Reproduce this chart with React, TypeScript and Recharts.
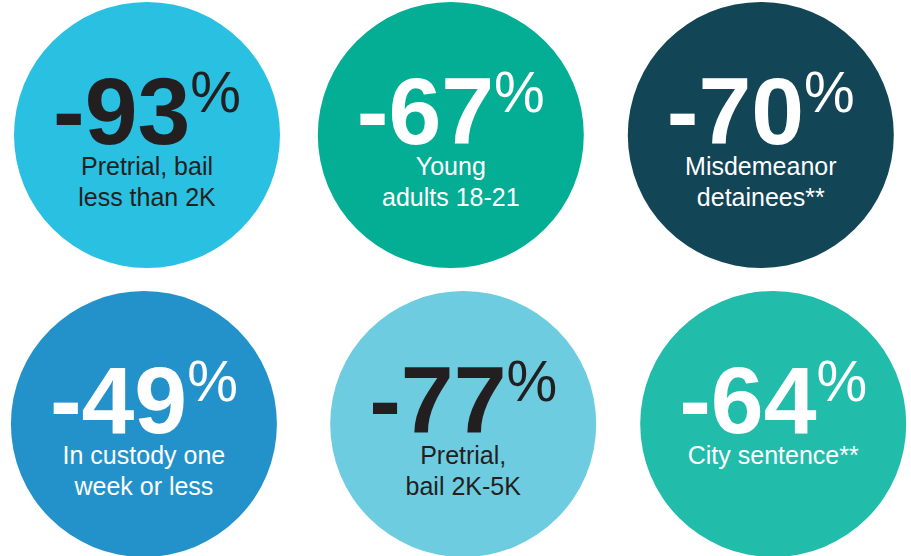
import React from "react";
import { ScatterChart, Scatter, XAxis, YAxis } from "recharts";

// headline changes, one bubble each
const values = [-93, -67, -70, -49, -77, -64];
const captions = [
  ["Pretrial, bail", "less than 2K"],
  ["Young", "adults 18-21"],
  ["Misdemeanor", "detainees**"],
  ["In custody one", "week or less"],
  ["Pretrial,", "bail 2K-5K"],
  ["City sentence**"],
];
// grid slot of each bubble (column, row)
const cols = [0, 0.98, 1.98, -0.01, 1.02, 2.02];
const rows = [0, 0, 0, 1, 1, 1];

const FILLS = ["#29C0E1", "#03AE94", "#124556", "#2492CA", "#6ECCE0", "#22BCAB"];
const INK = ["#231F20", "#FFFFFF", "#FFFFFF", "#FFFFFF", "#231F20", "#FFFFFF"];
const FONT = "'Liberation Sans', Arial, Helvetica, sans-serif";
const R = 133;

const data = values.map((v, i) => ({ col: cols[i], row: rows[i], value: v, caption: captions[i], idx: i }));

function Bubble(props: any) {
  const { cx, cy, payload } = props;
  const i = payload.idx;
  const ink = INK[i];
  return (
    <g>
      <circle cx={cx} cy={cy} r={R} fill={FILLS[i]} />
      <text x={cx} y={cy + 9} textAnchor="middle" fill={ink} fontFamily={FONT}>
        <tspan fontSize={95} fontWeight={700}>{payload.value}</tspan>
        <tspan fontSize={57} dy={-32}>%</tspan>
      </text>
      {payload.caption.map((line: string, k: number) => (
        <text key={k} x={cx} y={cy + 40 + k * 31} textAnchor="middle" fill={ink}
          fontSize={25} fontFamily={FONT}>{line}</text>
      ))}
    </g>
  );
}

export default function App() {
  return (
    <div style={{ position: "absolute", left: 0, top: 0, width: 911, height: 556, background: "#fff" }}>
      <ScatterChart width={911} height={556} margin={{ top: 0, right: 0, bottom: 0, left: 0 }}>
        <XAxis type="number" dataKey="col" hide domain={[-0.4742, 2.4645]} allowDataOverflow />
        <YAxis type="number" dataKey="row" hide reversed domain={[-0.4671, 1.4567]} allowDataOverflow />
        <Scatter data={data} shape={Bubble} isAnimationActive={false} />
      </ScatterChart>
    </div>
  );
}
